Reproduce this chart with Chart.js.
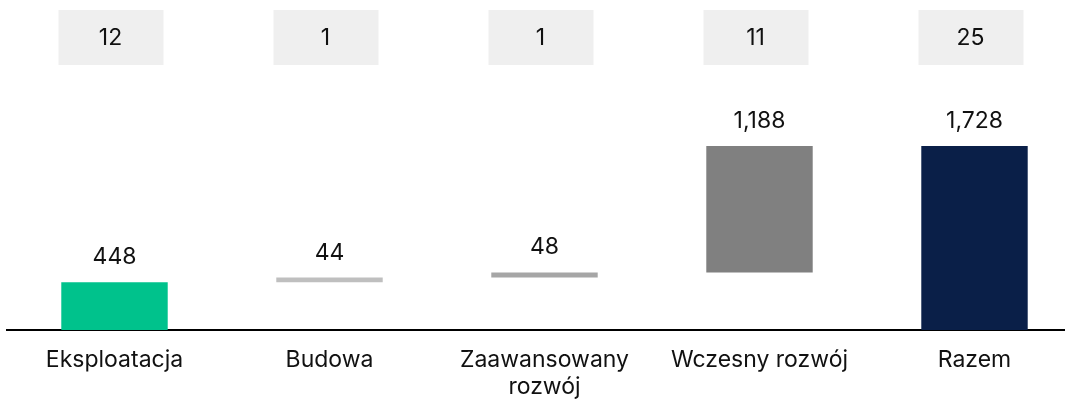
<!DOCTYPE html>
<html lang="pl">
<head>
<meta charset="UTF-8">
<title>Portfel projektów</title>
<script src="https://cdn.jsdelivr.net/npm/chart.js@4.4.1/dist/chart.umd.min.js"></script>
<style>
  html, body { margin: 0; padding: 0; background: #fff; overflow: hidden; }
  #wrap { position: relative; width: 1082px; height: 401px; }
</style>
</head>
<body>
<div id="wrap"><canvas id="chart"></canvas></div>
<script>
const categories = ['Eksploatacja', 'Budowa', ['Zaawansowany', 'rozwój'], 'Wczesny rozwój', 'Razem'];
const values = [448, 44, 48, 1188, 1728];
const counts = [12, 1, 1, 11, 25];
const colors = ['#00c28c', '#bfbfbf', '#a6a6a6', '#808080', '#0a1f48'];

const FONT = 'Inter, "Noto Sans", sans-serif';

// waterfall: each step floats on the running total, last bar is the total itself
let running = 0;
const ranges = values.map((v, i) => {
  if (i === values.length - 1) return [0, v];
  const r = [running, running + v];
  running += v;
  return r;
});

const fmt = v => v.toLocaleString('en-US');

const overlay = {
  id: 'overlay',
  afterDatasetsDraw(chart) {
    const ctx = chart.ctx;
    const meta = chart.getDatasetMeta(0);
    ctx.save();
    ctx.font = '23px ' + FONT;
    ctx.fillStyle = '#111';
    ctx.textAlign = 'center';
    ctx.textBaseline = 'alphabetic';
    meta.data.forEach((bar, i) => {
      const top = Math.min(bar.y, bar.base);
      ctx.fillText(fmt(values[i]), bar.x, top - 18);
    });

    // count boxes across the top
    const xs = chart.scales.x;
    counts.forEach((c, i) => {
      const cx = xs.getPixelForValue(i) - 4;
      ctx.fillStyle = '#efefef';
      ctx.fillRect(cx - 52, 10, 105, 55);
      ctx.fillStyle = '#111';
      ctx.textBaseline = 'middle';
      ctx.fillText(String(c), cx, 38);
    });
    ctx.restore();
  }
};

new Chart(document.getElementById('chart'), {
  type: 'bar',
  data: {
    labels: categories,
    datasets: [{
      data: ranges,
      backgroundColor: colors,
      borderWidth: 0,
      barPercentage: 0.495,
      categoryPercentage: 1
    }]
  },
  options: {
    responsive: true,
    maintainAspectRatio: false,
    animation: false,
    layout: { padding: { left: 7, right: 0, top: 117, bottom: 0 } },
    plugins: { legend: { display: false }, tooltip: { enabled: false } },
    scales: {
      x: {
        grid: { display: false, drawTicks: false },
        border: { display: true, color: '#000', width: 2 },
        ticks: {
          color: '#111',
          font: { family: FONT, size: 23, lineHeight: 1.2 },
          padding: 16,
          maxRotation: 0,
          autoSkip: false
        },
        afterFit(scale) { scale.height = 71; }
      },
      y: {
        display: false,
        min: 0,
        max: 2000
      }
    }
  },
  plugins: [overlay]
});
</script>
</body>
</html>
